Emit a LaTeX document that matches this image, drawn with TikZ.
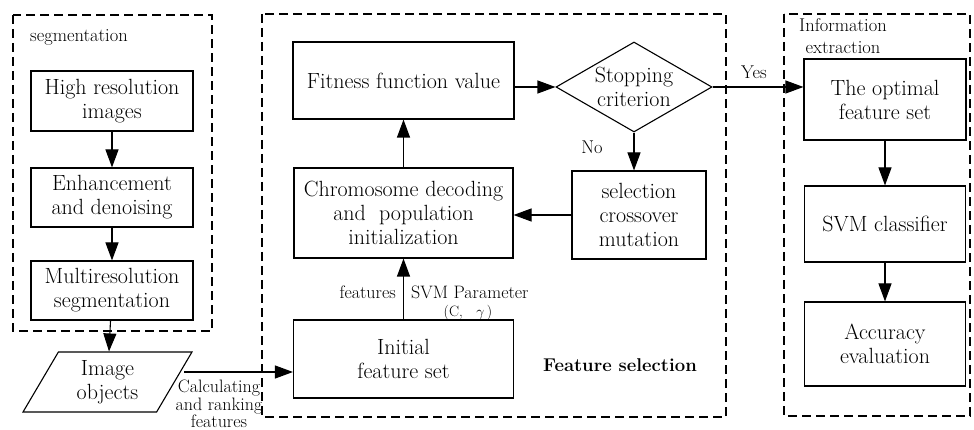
\documentclass[tikz,border=0pt]{standalone}
\usepackage{amsmath,amssymb}
\usepackage{xcolor}
\usepackage{tikz}
\usetikzlibrary{arrows.meta,shapes.geometric}

\begin{document}
\begin{tikzpicture}[x=1pt,y=-1pt,>={Triangle[length=18pt,width=13pt]}]
		\useasboundingbox (0,0) rectangle (974,430);
		\tikzstyle{every node}+=[inner sep=0pt,align=center,font=\fontsize{22}{24}\selectfont]
		\tikzstyle{box}=[draw,line width=1.1pt,rectangle]
		\tikzstyle{dashframe}=[draw,line width=1.1pt,dash pattern=on 9pt off 5pt]
		\tikzstyle{lbl}=[font=\fontsize{18.5}{22}\selectfont]
		\tikzstyle{smalltext}=[font=\fontsize{18}{17.5}\selectfont]
		% the three dashed frames
		\draw[dashframe] (13,15) rectangle (212,331);
		\draw[dashframe] (262,14) rectangle (726,417);
		\draw[dashframe] (784,14) rectangle (970,416);
		\node[lbl,anchor=west] (s) at (30,37) {segmentation};
		\node[lbl] (t) at (843,36) {Information\\extraction};
		\node[font=\fontsize{18.5}{22}\selectfont\bfseries] (u) at (620,365) {Feature selection};
		% segmentation
		\node[box,minimum width=162pt,minimum height=60pt] (a) at (112,101) {High resolution\\images};
		\node[box,minimum width=162pt,minimum height=59pt] (b) at (112,197.5) {Enhancement\\and denoising};
		\node[box,minimum width=162pt,minimum height=59pt] (c) at (112,290.5) {Multiresolution\\segmentation};
		\node[draw,line width=1.1pt,trapezium,trapezium left angle=63,trapezium right angle=117,
			trapezium stretches=true,minimum width=169pt,minimum height=60pt] (d) at (107.5,382) {Image\\objects};
		% feature selection
		\node[box,minimum width=220pt,minimum height=78pt] (e) at (403.5,359) {Initial\\feature set};
		\node[box,minimum width=221pt,minimum height=77pt] (f) at (403.5,80.5) {Fitness function value};
		\node[draw,line width=1.1pt,diamond,aspect=1.73,minimum width=156pt,minimum height=90pt] (g) at (634,87) {Stopping\\criterion};
		\node[box,minimum width=134pt,minimum height=88pt] (i) at (639,215) {selection\\crossover\\mutation};
		\node[box,minimum width=219pt,minimum height=90pt] (j) at (403.5,213) {Chromosome decoding\\and\ \ population\\initialization};
		% information extraction
		\node[box,minimum width=162pt,minimum height=81pt] (h) at (885,99.5) {The optimal\\feature set};
		\node[box,minimum width=161pt,minimum height=76pt] (k) at (885,224) {SVM classifier};
		\node[box,minimum width=161pt,minimum height=84pt] (l) at (885,344) {Accuracy\\evaluation};
		% labels on the connectors
		\node[smalltext] (n) at (219,404) {Calculating\\and ranking\\features};
		\node[smalltext,anchor=east] (o) at (396,292) {features};
		\node[smalltext,anchor=west] (p) at (411,292) {SVM Parameter};
		\node[font=\fontsize{15}{17}\selectfont] (q) at (468,313) {(C,\ \ \ $\gamma$\,)};
		\node[lbl] (y) at (754,72) {Yes};
		\node[lbl] (z) at (592,147) {No};
		\coordinate (m) at (184,372);
		\tikzstyle{every path}+=[line width=1.1pt]
		\draw[->] (a) -- (b);
		\draw[->] (b) -- (c);
		\draw[->] (c) -- (d);
		\draw[->] (m) -- (m -| e.west);
		\draw[->] (e) -- (j);
		\draw[->] (j) -- (f);
		\draw[->] (g.west -| f.east) -- (g.west);
		\draw[->] (g.south) -- (g.south |- i.north);
		\draw[->] (i.west) -- (i.west -| j.east);
		\draw[->] (g.east) -- (g.east -| h.west);
		\draw[->] (h) -- (k);
		\draw[->] (k) -- (l);
\end{tikzpicture}
\end{document}
